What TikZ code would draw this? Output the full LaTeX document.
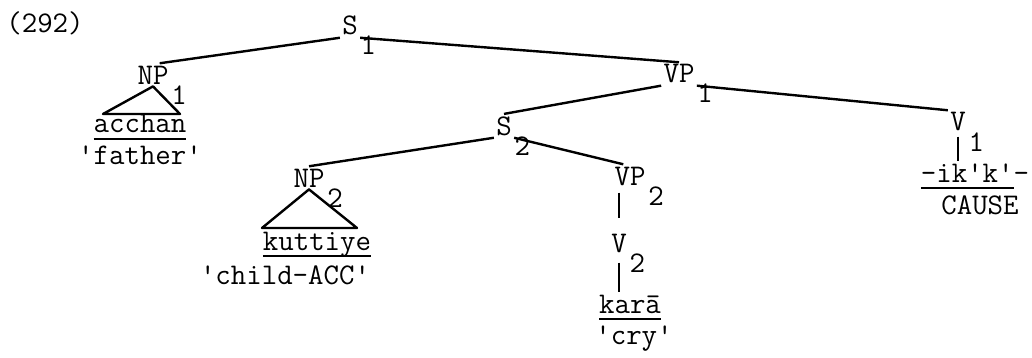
\documentclass[tikz,border=0pt]{standalone}
\usepackage{fontspec}
\newcommand\catidx[1]{\smash{\rlap{\lower10pt\hbox{\kern1.5pt#1}}}}
\newcommand\wordul[1]{\setbox0\hbox{#1}\rlap{\rule[-3.5pt]{\wd0}{0.9pt}}\box0}
\newcommand\qmark{\textquotesingle}

\begin{document}
\begin{tikzpicture}[x=0.5pt, y=-0.5pt,
    tnode/.style={font=\ttfamily\fontsize{15}{17}\selectfont, inner sep=1pt, anchor=base},
    branch/.style={line width=1.2pt, line join=round}]
\useasboundingbox (0,0) rectangle (1032,358);

\node[tnode] (ex) at (45,33) {(292)};
\node[tnode] (s1) at (350,35) {S\catidx{1}};
\node[tnode] (np1) at (153,84) {NP\catidx{1}};
\node[tnode] (acchan) at (140,133) {\wordul{acchan}};
\node[tnode] (father) at (140,164) {\qmark{}father\qmark};
\node[tnode] (vp1) at (679,83) {VP\catidx{1}};
\node[tnode] (s2) at (504,135) {S\catidx{2}};
\node[tnode] (np2) at (309,187) {NP\catidx{2}};
\node[tnode] (kuttiye) at (317,250) {\wordul{kuttiye}};
\node[tnode] (child) at (285,284) {\qmark{}child-ACC\qmark};
\node[tnode] (vp2) at (630,185) {VP\catidx{2}};
\node[tnode] (v2) at (619,252) {V\catidx{2}};
\node[tnode] (kara) at (630,313) {\wordul{kar\=a}};
\node[tnode] (cry) at (634,344) {\qmark{}cry\qmark};
\node[tnode] (v1) at (958,131) {V\catidx{1}};
\node[tnode] (ikk) at (975,182) {\wordul{-ik\qmark{}k\qmark}-};
\node[tnode] (cause) at (980,214) {CAUSE};

\coordinate (tri1l) at (103,114);
\coordinate (tri1r) at (180,114);
\coordinate (tri2l) at (262,228);
\coordinate (tri2r) at (357,228);

\draw[branch] (s1.south west) -- (np1.60);
\draw[branch] (s1.south east) -- (vp1.north);
\draw[branch] (vp1.south west) -- (s2.north);
\draw[branch] (vp1.south east) -- (v1.north west);
\draw[branch] (s2.south west) -- (np2.north);
\draw[branch] (s2.south east) -- (vp2.120);
\draw[branch, shorten <=2.5pt, shorten >=6.5pt] (v2.north |- vp2.south) -- (v2.north);
\draw[branch, shorten <=4pt] (v2.south) -- (v2.south |- kara.north);
\draw[branch, shorten <=1.5pt] (v1.south) -- (v1.south |- ikk.north);
\draw[branch] (np1.south) -- (tri1l) -- (tri1r) -- cycle;
\draw[branch] (np2.south) -- (tri2l) -- (tri2r) -- cycle;
\end{tikzpicture}
\end{document}
